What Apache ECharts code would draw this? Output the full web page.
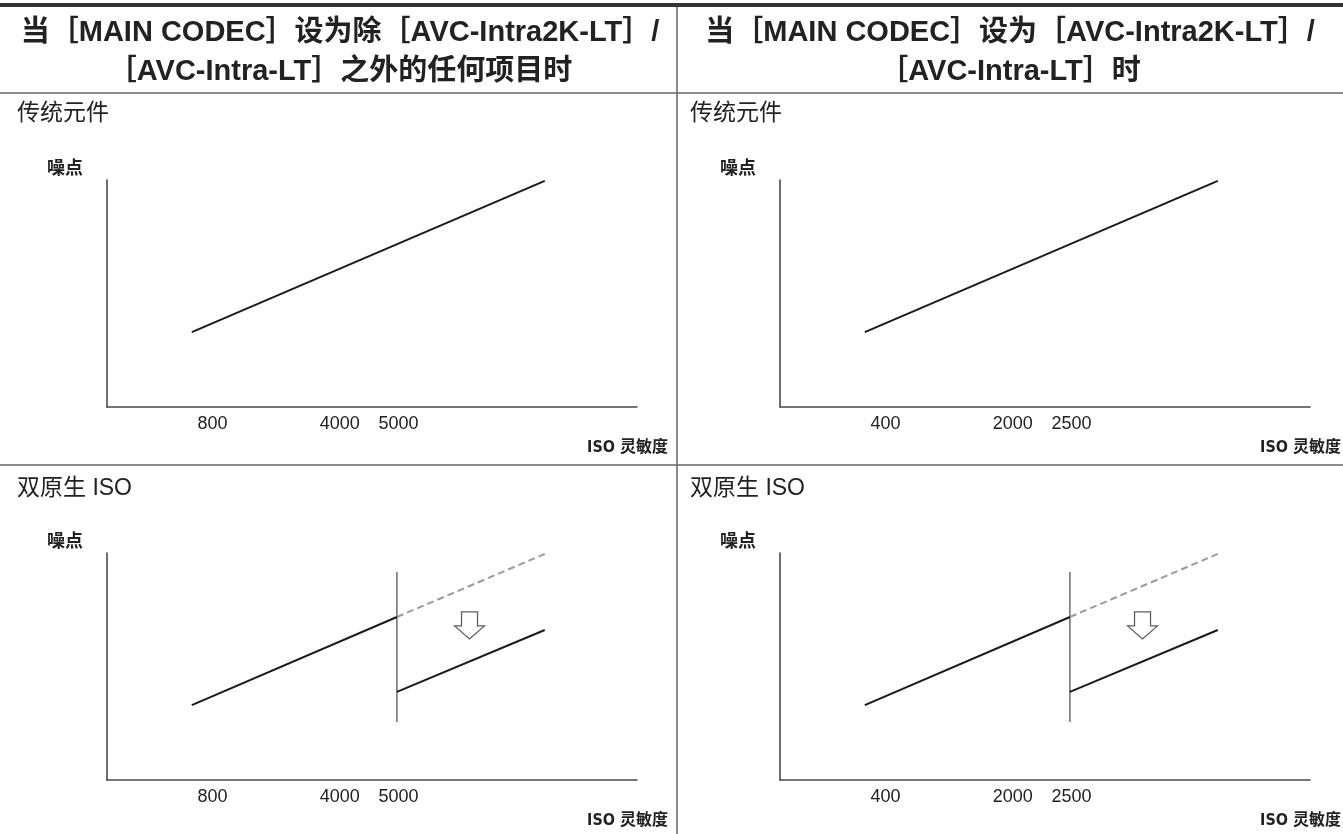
<!DOCTYPE html>
<html>
<head>
<meta charset="utf-8">
<script src="https://cdn.jsdelivr.net/npm/echarts@6/dist/echarts.min.js"></script>
<style>
html,body{margin:0;padding:0;background:#fff;}
#chart{width:1343px;height:834px;}
</style>
</head>
<body>
<div id="chart"></div>
<script>
// ---- data (schematic axis units 0..100) ----
const headerLeft = '当［MAIN CODEC］设为除［AVC-Intra2K-LT］/\n［AVC-Intra-LT］之外的任何项目时';
const headerRight = '当［MAIN CODEC］设为［AVC-Intra2K-LT］/\n［AVC-Intra-LT］时';
const rowTitles = ['传统元件', '双原生 ISO'];
const yAxisName = '噪点';
const xAxisName = 'ISO 灵敏度';
const leftIsoLabels = ['800', '4000', '5000'];
const rightIsoLabels = ['400', '2000', '2500'];
const isoLabelPos = [19.9, 43.9, 55.0];
const conventionalX = [16.0, 82.6];
const conventionalY = [33.0, 99.6];
const dualLowX = [16.0, 54.7];
const dualLowY = [33.0, 71.8];
const dualDashX = [54.7, 82.6];
const dualDashY = [71.8, 99.6];
const dualHighX = [54.7, 82.6];
const dualHighY = [38.8, 66.1];
const switchX = [54.7, 54.7];
const switchY = [25.6, 91.6];
const arrowPoint = [68.4, 68.1];

const pairs = (xs, ys) => xs.map((x, i) => [x, ys[i]]);

const FONT = '"Liberation Sans", "Noto Sans CJK SC", sans-serif';
const CJK = '"Noto Sans CJK SC", "Liberation Sans", sans-serif';
const NARROW = '"Liberation Sans Narrow", "DejaVu Sans Condensed", "Noto Sans CJK SC", sans-serif';

const panels = [
  {left: 107, top: 180, labels: leftIsoLabels, dual: false},
  {left: 780, top: 180, labels: rightIsoLabels, dual: false},
  {left: 107, top: 553, labels: leftIsoLabels, dual: true},
  {left: 780, top: 553, labels: rightIsoLabels, dual: true}
];

const grid = [], xAxis = [], yAxis = [], series = [];
panels.forEach((p, i) => {
  grid.push({left: p.left, top: p.top, width: 530, height: 227, containLabel: false});
  xAxis.push({
    type: 'value', gridIndex: i, min: 0, max: 100,
    splitLine: {show: false},
    axisTick: {show: false},
    axisLine: {show: true, lineStyle: {color: '#4a4a4a', width: 1.6}},
    axisLabel: {
      show: true, margin: 8,
      customValues: isoLabelPos,
      formatter: (v) => { const k = isoLabelPos.indexOf(v); return k >= 0 ? p.labels[k] : ''; },
      color: '#222', fontSize: 18, fontFamily: FONT
    },
    name: xAxisName, nameLocation: 'end', nameGap: 31,
    nameTextStyle: {align: 'right', verticalAlign: 'top', padding: [33, 0, 0, 0],
      fontSize: 16, fontWeight: 'bold', color: '#222', fontFamily: NARROW}
  });
  yAxis.push({
    type: 'value', gridIndex: i, min: 0, max: 100,
    splitLine: {show: false},
    axisTick: {show: false},
    axisLabel: {show: false},
    axisLine: {show: true, lineStyle: {color: '#4a4a4a', width: 1.6}},
    name: yAxisName, nameLocation: 'end', nameGap: 4,
    nameTextStyle: {align: 'right', verticalAlign: 'bottom', padding: [0, 24, 0, 0],
      fontSize: 18, fontWeight: 'bold', color: '#222', fontFamily: CJK}
  });
  const solid = {color: '#1a1a1a', width: 2};
  if (!p.dual) {
    series.push({type: 'line', xAxisIndex: i, yAxisIndex: i, data: pairs(conventionalX, conventionalY),
      symbol: 'none', lineStyle: solid, silent: true});
  } else {
    series.push({type: 'line', xAxisIndex: i, yAxisIndex: i, data: pairs(switchX, switchY),
      symbol: 'none', lineStyle: {color: '#555', width: 1.3}, silent: true});
    series.push({type: 'line', xAxisIndex: i, yAxisIndex: i, data: pairs(dualDashX, dualDashY),
      symbol: 'none', lineStyle: {color: '#9a9a9a', width: 2, type: [7, 4]}, silent: true});
    series.push({type: 'line', xAxisIndex: i, yAxisIndex: i, data: pairs(dualLowX, dualLowY),
      symbol: 'none', lineStyle: solid, silent: true});
    series.push({type: 'line', xAxisIndex: i, yAxisIndex: i, data: pairs(dualHighX, dualHighY),
      symbol: 'none', lineStyle: solid, silent: true});
    series.push({type: 'scatter', xAxisIndex: i, yAxisIndex: i, data: [arrowPoint],
      symbol: 'path://M7,0 L23,0 L23,14 L30,14 L15,27 L0,14 L7,14 Z',
      symbolSize: [30, 27], silent: true,
      itemStyle: {color: '#fff', borderColor: '#333', borderWidth: 1.2}});
  }
});

const hdrStyle = {fontSize: 29, fontWeight: 'bold', color: '#222', fontFamily: FONT, lineHeight: 39};
const rowStyle = {fontSize: 23, fontWeight: 'normal', color: '#222', fontFamily: FONT};
const title = [
  {text: headerLeft, left: 340, top: 13, textAlign: 'center', textStyle: hdrStyle},
  {text: headerRight, left: 1010, top: 13, textAlign: 'center', textStyle: hdrStyle},
  {text: rowTitles[0], left: 17, top: 102, textStyle: rowStyle},
  {text: rowTitles[0], left: 690, top: 102, textStyle: rowStyle},
  {text: rowTitles[1], left: 17, top: 477, textStyle: rowStyle},
  {text: rowTitles[1], left: 690, top: 477, textStyle: rowStyle}
];
title.forEach(t => { t.padding = 0; });

const graphic = [
  {type: 'rect', shape: {x: 0, y: 3, width: 1343, height: 4}, style: {fill: '#333'}, silent: true},
  {type: 'line', shape: {x1: 0, y1: 93, x2: 1343, y2: 93}, style: {stroke: '#666', lineWidth: 1.5}, silent: true},
  {type: 'line', shape: {x1: 0, y1: 465, x2: 1343, y2: 465}, style: {stroke: '#666', lineWidth: 1.5}, silent: true},
  {type: 'line', shape: {x1: 677, y1: 7, x2: 677, y2: 834}, style: {stroke: '#666', lineWidth: 1.5}, silent: true}
];

const chart = echarts.init(document.getElementById('chart'), null, {renderer: 'canvas'});
chart.setOption({
  animation: false,
  backgroundColor: '#fff',
  title, grid, xAxis, yAxis, series, graphic
});
</script>
</body>
</html>
